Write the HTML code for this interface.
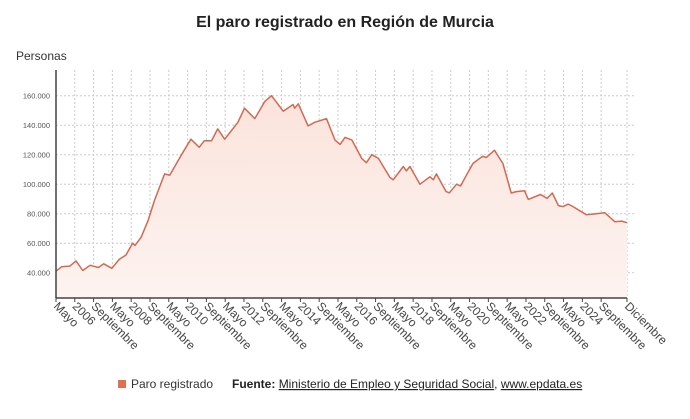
<!DOCTYPE html>
<html><head><meta charset="utf-8"><style>
body{margin:0;background:#fff;width:690px;height:414px;overflow:hidden;font-family:"Liberation Sans",sans-serif}
</style></head><body>
<svg id="chart" width="690" height="414" xmlns="http://www.w3.org/2000/svg" font-family="Liberation Sans, sans-serif">
<defs><linearGradient id="fillg" x1="0" y1="0" x2="0" y2="1"><stop offset="0" stop-color="#fbe3dc"/><stop offset="1" stop-color="#fdf3f0"/></linearGradient></defs>
<text x="345" y="27" text-anchor="middle" font-size="16" font-weight="bold" fill="#222">El paro registrado en Región de Murcia</text>
<text x="16" y="60" font-size="12" fill="#333">Personas</text>
<g id="grid"></g><g id="series"></g><g id="axes"></g>
<g>
<rect x="118" y="380" width="8" height="8" fill="#e07050"/>
<text x="131" y="388" font-size="12" fill="#333">Paro registrado</text>
<text x="232" y="388" font-size="12" fill="#222"><tspan font-weight="bold">Fuente:</tspan> <tspan text-decoration="underline">Ministerio de Empleo y Seguridad Social</tspan>, <tspan text-decoration="underline">www.epdata.es</tspan></text>
</g>
</svg>
<script>
const months=[0,2.4,5.9,8.5,11.4,14.5,18.1,20.3,23.8,26.9,29.8,32.6,33.6,36.2,39.1,41.9,46.2,48.4,53.4,57.4,61,63.1,66.2,68.8,71.8,77.4,80.2,84.6,88.8,91.7,96.7,100.9,101.6,103.1,107.3,110.1,115.1,118.7,120.9,123,125.9,130.1,132.1,134.4,137.2,142.1,143.5,147.8,149.1,150.6,154.9,159.1,160.6,161.9,166,167.4,170.5,172.2,173.6,177.4,181.6,183.1,186.6,190.2,193.7,195.9,199.4,201,206.2,209,211.2,213.8,215.8,218,220,225.7,229.9,233.5,237.8,240.7,243];
const values=[41000,44000,44500,48000,41500,45000,43500,46000,43000,49000,52000,60000,58500,64000,75000,89000,107000,106000,120000,130500,125000,129500,129500,137500,130500,142000,151500,144500,156000,160000,149500,154000,151500,154500,139500,142000,144500,130000,127000,131700,130000,117500,114600,120000,117500,104600,103000,112000,109000,112000,100000,105000,103000,107000,95000,94200,100000,98800,103000,114000,119000,118000,123000,114000,94000,95000,95600,89700,93000,90400,94000,85500,84800,86500,84800,79300,80000,80700,74600,75000,73900];
const yTicks=[40000,60000,80000,100000,120000,140000,160000];
const yTickLabels=["40.000","60.000","80.000","100.000","120.000","140.000","160.000"];
const xTickMonths=[0,8,16,24,32,40,48,56,64,72,80,88,96,104,112,120,128,136,144,152,160,168,176,184,192,200,208,216,224,232,243];
const xTickLabels=["Mayo","2006","Septiembre","Mayo","2008","Septiembre","Mayo","2010","Septiembre","Mayo","2012","Septiembre","Mayo","2014","Septiembre","Mayo","2016","Septiembre","Mayo","2018","Septiembre","Mayo","2020","Septiembre","Mayo","2022","Septiembre","Mayo","2024","Septiembre","Diciembre"];
const X0=56,X1=627,Y0=70,Y1=298,M=243;
const xs=m=>X0+m*(X1-X0)/M;
const ys=v=>272.7-(v-40000)*177/120000;
const NS="http://www.w3.org/2000/svg";
function mk(t,a,p){const e=document.createElementNS(NS,t);for(const k in a)e.setAttribute(k,a[k]);p.appendChild(e);return e;}
const grid=document.getElementById('grid'),ser=document.getElementById('series'),ax=document.getElementById('axes');
yTicks.forEach((v,i)=>{
 const l=mk('line',{x1:X0,x2:X1+8,y1:ys(v),y2:ys(v),stroke:'#ccc','stroke-dasharray':'2,2'},grid);
 
 
 const t=mk('text',{x:X0-6,y:ys(v)+3,'text-anchor':'end','font-size':'7.5',fill:'#555'},ax);
 t.textContent=yTickLabels[i];
 
 
});
xTickMonths.forEach((m,i)=>{
 const x=xs(m);
 const g=mk('line',{x1:x,x2:x,y1:Y0,y2:Y1,stroke:'#ccc','stroke-dasharray':'2,2'},grid);
 
 
 const tk=mk('line',{x1:x,x2:x,y1:Y1,y2:Y1+4,stroke:'#444'},ax);
 
 
 const t=mk('text',{x:0,y:0,'font-size':'12',fill:'#444',transform:`translate(${x-3},${Y1+9}) rotate(45)`},ax);
 t.textContent=xTickLabels[i];
 
 
});
let d='';months.forEach((m,i)=>{d+=(i?'L':'M')+xs(m).toFixed(1)+','+ys(values[i]).toFixed(1);});
const area=mk('path',{d:d+`L${xs(months[months.length-1])},${Y1}L${xs(0)},${Y1}Z`,fill:'url(#fillg)'},ser);


const line=mk('path',{d:d,fill:'none',stroke:'#d4694f','stroke-width':'1.5','stroke-linejoin':'round'},ser);


const ya=mk('line',{x1:X0,x2:X0,y1:Y0,y2:Y1,stroke:'#444','stroke-width':'1.5'},ax);


const xa=mk('line',{x1:X0,x2:X1,y1:Y1,y2:Y1,stroke:'#444','stroke-width':'1.5'},ax);


</script>
</body></html>
